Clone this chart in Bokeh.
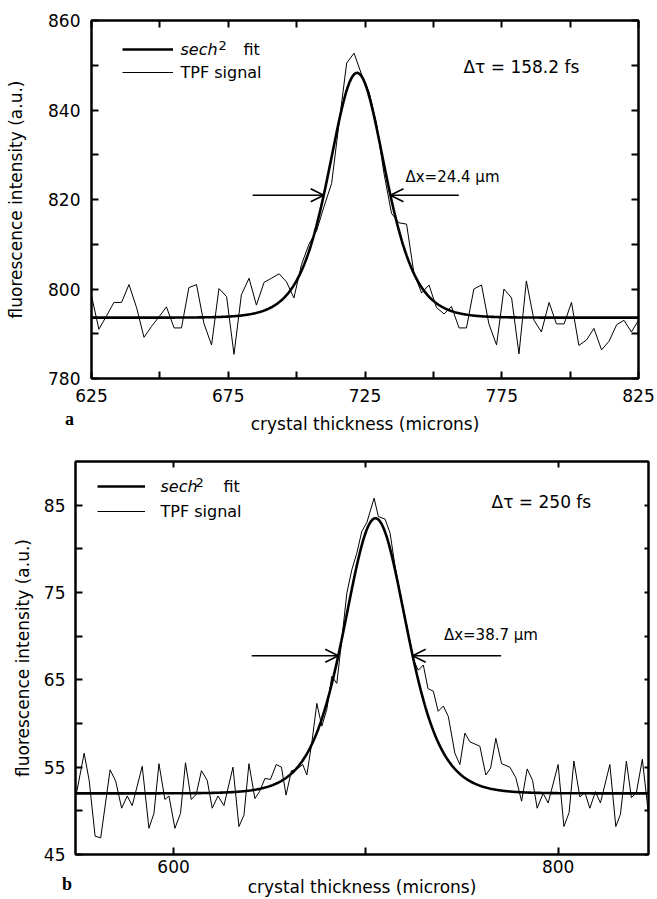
import numpy as np
from bokeh.plotting import figure
from bokeh.models import (Range1d, FixedTicker, LinearAxis, Label, Arrow, OpenHead,
                          Legend, LegendItem, Div)
from bokeh.embed import file_html
from bokeh.resources import INLINE

FONT = "DejaVu Sans"

# ---------------- panel a data ----------------
a_x = [625.0, 627.7, 630.5, 633.2, 636.0, 638.7, 641.5, 644.2, 646.9, 649.7,
       652.4, 655.2, 657.9, 660.6, 663.4, 666.1, 668.9, 671.6, 674.4, 677.1,
       679.8, 682.6, 685.3, 688.1, 690.8, 693.6, 696.3, 699.0, 701.8, 704.5,
       707.3, 710.0, 712.8, 715.5, 718.3, 721.0, 723.7, 726.5, 729.2, 731.9,
       734.7, 737.4, 740.2, 742.9, 745.7, 748.4, 751.1, 753.9, 756.6, 759.4,
       762.1, 764.8, 767.6, 770.3, 773.1, 775.8, 778.6, 781.3, 784.0, 786.8,
       789.5, 792.3, 795.0, 797.8, 800.5, 803.2, 806.0, 808.7, 811.5, 814.2,
       817.0, 819.7, 822.4, 825.0]
a_signal = [798.5, 791.0, 794.0, 797.0, 797.0, 801.0, 795.8, 789.2, 791.6, 793.8,
            796.0, 791.3, 791.3, 800.3, 801.0, 792.3, 787.5, 800.1, 798.3, 785.4,
            798.7, 802.4, 796.4, 801.5, 802.4, 803.4, 801.6, 798.0, 805.5, 810.0,
            813.0, 818.4, 823.6, 837.0, 850.5, 852.7, 848.0, 844.0, 837.0, 826.0,
            816.9, 814.8, 814.5, 803.5, 799.1, 800.9, 795.9, 794.4, 796.1, 791.3,
            791.3, 800.0, 800.9, 792.2, 787.5, 800.0, 798.0, 785.5, 801.8, 793.0,
            790.4, 797.0, 792.2, 792.2, 797.0, 787.4, 788.6, 791.2, 786.4, 788.3,
            792.0, 793.0, 790.4, 793.0]
# sech^2 fit parameters
a_fit_baseline = 793.6
a_fit_peak = 848.3
a_fit_center = 722.1
a_fit_fwhm = 24.4
a_xticks = [625, 675, 725, 775, 825]
a_xminor = [650, 700, 750, 800]
a_yticks = [780, 800, 820, 840, 860]
a_yminor = [790, 810, 830, 850]
a_tau_text = "\u0394\u03c4 = 158.2 fs"
a_dx_text = "\u0394x=24.4 \u00b5m"

# ---------------- panel b data ----------------
b_x = [549.5, 553.5, 556.1, 559.2, 562.1, 567.0, 569.9, 573.0, 575.9, 578.5,
       583.7, 587.2, 589.8, 592.4, 595.5, 597.6, 600.7, 603.6, 606.2, 609.2,
       611.8, 614.5, 617.5, 620.1, 623.1, 626.2, 630.9, 634.0, 636.6, 639.2,
       642.3, 644.7, 647.5, 650.4, 653.4, 656.1, 658.5, 661.3, 663.7, 667.2,
       669.3, 671.9, 674.5, 677.1, 679.7, 682.3, 684.9, 687.5, 690.1, 692.7,
       695.3, 697.9, 700.5, 704.3, 706.5, 710.0, 712.6, 715.2, 717.8, 720.4,
       723.0, 724.7, 727.3, 729.9, 732.3, 735.1, 737.6, 740.3, 742.9, 746.3,
       748.9, 751.5, 754.1, 759.3, 762.4, 764.9, 767.6, 770.6, 774.9, 778.0,
       781.0, 783.9, 786.7, 789.1, 792.2, 794.8, 800.0, 803.0, 805.7, 808.2,
       811.3, 813.9, 816.5, 819.4, 822.0, 826.9, 830.0, 832.4, 835.5, 838.1,
       840.7, 843.8, 847.0]
b_signal = [52.0, 56.6, 53.5, 47.1, 46.9, 54.7, 53.4, 50.3, 51.7, 50.6,
            55.1, 48.0, 49.7, 55.4, 51.3, 51.7, 48.0, 49.7, 55.5, 51.3,
            51.9, 54.6, 53.5, 50.3, 51.7, 50.6, 55.0, 48.2, 49.5, 55.4,
            51.4, 52.2, 53.7, 53.6, 55.3, 55.0, 51.8, 54.6, 54.7, 55.3,
            54.1, 57.8, 62.3, 59.7, 61.6, 65.4, 64.6, 69.6, 74.9, 77.6,
            79.5, 82.0, 83.0, 85.8, 83.7, 83.4, 81.8, 78.0, 75.0, 72.2,
            69.4, 67.3, 66.1, 66.7, 64.0, 63.7, 61.4, 62.0, 60.8, 56.6,
            55.3, 58.9, 57.9, 57.4, 54.1, 54.9, 58.3, 55.4, 55.0, 53.8,
            51.1, 54.8, 53.5, 50.3, 52.0, 50.9, 55.3, 48.2, 49.8, 55.7,
            51.6, 52.1, 50.3, 52.2, 50.9, 55.3, 48.2, 49.6, 55.7, 51.5,
            52.1, 55.9, 49.6]
b_fit_baseline = 52.0
b_fit_peak = 83.5
b_fit_center = 705.0
b_fit_fwhm = 38.7
b_xticks = [600, 800]
b_xminor = [700]
b_yticks = [45, 55, 65, 75, 85]
b_yminor = [50, 60, 70, 80]
b_tau_text = "\u0394\u03c4 = 250 fs"
b_dx_text = "\u0394x=38.7 \u00b5m"

X_TITLE = "crystal thickness (microns)"
Y_TITLE = "fluorescence intensity (a.u.)"


def sech2_fit(xs, base, peak, center, fwhm):
    w = fwhm / (2.0 * np.arccosh(np.sqrt(2.0)))
    return base + (peak - base) / np.cosh((xs - center) / w) ** 2


def style_axis(ax, ticks, minor, minor_len=7):
    ax.ticker = FixedTicker(ticks=ticks, minor_ticks=minor)
    ax.axis_line_width = 2
    ax.axis_line_color = "black"
    ax.major_tick_in = 7
    ax.major_tick_out = 0
    ax.minor_tick_in = minor_len
    ax.minor_tick_out = 0
    ax.major_tick_line_width = 2
    ax.minor_tick_line_width = 2
    ax.major_tick_line_color = "black"
    ax.minor_tick_line_color = "black"
    ax.major_label_text_font = FONT
    ax.major_label_text_color = "black"
    ax.major_label_text_font_size = "17px"
    ax.axis_label_text_font = FONT
    ax.axis_label_text_font_style = "normal"
    ax.axis_label_text_color = "black"
    ax.axis_label_text_font_size = "17px"


def mirror_axis(ticks, minor, tick_len):
    # frame-edge ticks only: every position is a minor tick, so no labels exist
    ax = LinearAxis()
    style_axis(ax, [], sorted(list(ticks) + list(minor)), minor_len=tick_len)
    ax.major_label_standoff = 0
    return ax


def make_panel(xs, sig, fitp, xr, yr, xt, xm, yt, ym, size, borders,
               legend_geo, legend_text, tau, dx, arrow_len,
               right_len=7, top_len=7, bottom_std=(10, 9), left_std=(11, 19)):
    w, h = size
    bl, br, bt, bb = borders
    p = figure(width=w, height=h, x_range=Range1d(*xr), y_range=Range1d(*yr),
               output_backend="svg", toolbar_location=None,
               min_border_left=bl, min_border_right=br,
               min_border_top=bt, min_border_bottom=bb)
    p.xgrid.visible = False
    p.ygrid.visible = False
    p.outline_line_color = "black"
    p.outline_line_width = 2
    p.background_fill_color = "white"
    p.border_fill_color = "white"

    xa = p.xaxis[0]
    style_axis(xa, xt, xm)
    xa.axis_label = X_TITLE
    xa.major_label_standoff = bottom_std[0]
    xa.axis_label_standoff = bottom_std[1]
    ya = p.yaxis[0]
    style_axis(ya, yt, ym)
    ya.axis_label = Y_TITLE
    ya.major_label_standoff = left_std[0]
    ya.axis_label_standoff = left_std[1]

    p.add_layout(mirror_axis(xt, xm, top_len), "above")
    p.add_layout(mirror_axis(yt, ym, right_len), "right")

    base, peak, center, fwhm = fitp
    xf = np.linspace(xr[0], xr[1], 600)
    yf = sech2_fit(xf, base, peak, center, fwhm)
    r_sig = p.line(xs, sig, line_color="black", line_width=1)
    r_fit = p.line(xf, yf, line_color="black", line_width=2.6)

    lx, ly, lsp, gw = legend_geo
    leg = Legend(items=[LegendItem(label=" ", renderers=[r_fit]),
                        LegendItem(label=" ", renderers=[r_sig])],
                 location=(lx, ly), padding=0, margin=0, spacing=lsp,
                 label_height=20, glyph_height=20, glyph_width=gw,
                 label_standoff=0, label_width=1,
                 label_text_font_size="1px",
                 border_line_color=None, background_fill_alpha=0)
    p.add_layout(leg)

    (sx, sy1, sy2, s2x, fitx) = legend_text
    common = dict(x_units="screen", y_units="screen", text_font=FONT,
                  text_color="black", text_baseline="middle")
    p.add_layout(Label(x=sx, y=sy1, text="sech", text_font_size="16px",
                       text_font_style="italic", **common))
    p.add_layout(Label(x=s2x, y=sy1 + 4, text="2", text_font_size="13px", **common))
    p.add_layout(Label(x=fitx, y=sy1, text="fit", text_font_size="16px", **common))
    p.add_layout(Label(x=sx, y=sy2, text="TPF signal", text_font_size="16px", **common))

    tx, ty, ttext, tsize = tau
    p.add_layout(Label(x=tx, y=ty, text=ttext, text_font=FONT, text_font_size=tsize,
                       text_color="black", text_baseline="middle"))
    hm = base + (peak - base) / 2.0
    left_tip = center - fwhm / 2.0
    right_tip = center + fwhm / 2.0
    la, ra = arrow_len
    for x0, x1 in ((left_tip - la, left_tip), (right_tip + ra, right_tip)):
        p.add_layout(Arrow(end=OpenHead(size=13, line_width=1.6, line_color="black"),
                           x_start=x0, y_start=hm, x_end=x1, y_end=hm,
                           line_width=1.6, line_color="black"))
    dxx, dxy, dtext = dx
    p.add_layout(Label(x=dxx, y=dxy, text=dtext, text_font=FONT, text_font_size="15px",
                       text_color="black", text_baseline="middle"))
    return p


def panel_letter(letter, left, h):
    html = ('<span style="font-family: \'Liberation Serif\'; font-weight: bold; '
            'font-size: 18px; line-height: 18px; color: black;">%s</span>' % letter)
    return Div(text=html, width=20, height=h, margin=(-h, 0, 0, left),
               styles={"position": "relative", "z-index": "10",
                       "line-height": "18px", "display": "block"})


pa = make_panel(a_x, a_signal,
                (a_fit_baseline, a_fit_peak, a_fit_center, a_fit_fwhm),
                (625, 825), (780, 860), a_xticks, a_xminor, a_yticks, a_yminor,
                size=(657, 436), borders=(91, 19, 20, 58),
                legend_geo=(31, 296, 3, 51),
                legend_text=(89, 329, 306, 127, 152),
                tau=(761, 849.6, a_tau_text, "17px"),
                dx=(739.8, 825.0, a_dx_text),
                arrow_len=(26, 25),
                right_len=7, top_len=7,
                bottom_std=(10, 9), left_std=(11, 19))

pb = make_panel(b_x, b_signal,
                (b_fit_baseline, b_fit_peak, b_fit_center, b_fit_fwhm),
                (549, 847), (45, 90), b_xticks, b_xminor, b_yticks, b_yminor,
                size=(657, 463), borders=(75, 9, 25, 44),
                legend_geo=(21.7, 333, 5, 48),
                legend_text=(85, 368, 343, 120, 148),
                tau=(765.4, 85.4, b_tau_text, "17px"),
                dx=(740.6, 70.1, b_dx_text),
                arrow_len=(45, 46),
                right_len=4, top_len=6, bottom_std=(5, 1), left_std=(10, 8))

div_a = panel_letter("a", 65, 26)
div_b = panel_letter("b", 62, 24)

# separate roots so that the two plot frames are not aligned to each other
open("out.html", "w").write(file_html([pa, div_a, pb, div_b], INLINE))
